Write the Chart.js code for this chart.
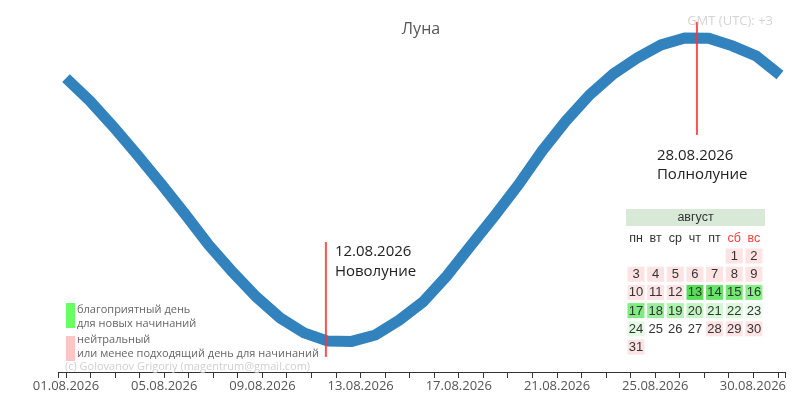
<!DOCTYPE html>
<html><head><meta charset="utf-8">
<script src="https://cdn.jsdelivr.net/npm/chart.js@4"></script>
<style>html,body{margin:0;padding:0;background:#fff}#wrap{width:795px;height:407px;position:relative}</style>
</head><body><div id="wrap"><canvas id="c" width="795" height="407"></canvas></div>
<script>
// ---- data ----
const illumination = [86.8,79.3,70.7,61.5,52.0,42.1,31.9,23.0,14.8,7.9,3.0,0.3,0.2,2.3,7.2,13.2,21.7,31.6,41.4,51.6,62.8,72.7,81.3,88.2,93.4,97.7,100,99.9,97.4,94.1,87.8];
const dayIndex = illumination.map((_, i) => i);
const tickDays = [0,1,2,3,4,5,6,7,8,9,10,11,12,13,14,15,16,17,18,19,20,21,22,23,24,25,26,27,28,29];
const labeledDays = [0,4,8,12,16,20,24,29];
const labeledText = ['01.08.2026','05.08.2026','09.08.2026','13.08.2026','17.08.2026','21.08.2026','25.08.2026','30.08.2026'];
const eventPos = [10.92, 26.51];
const eventLow = [-4.9, 68.1];
const eventHigh = [32.9, 105.3];
const eventDates = ['12.08.2026','28.08.2026'];
const eventNames = ['Новолуние','Полнолуние'];
const monthName = 'август';
const weekdays = ['пн','вт','ср','чт','пт','сб','вс'];
const firstWeekday = 5;
const dayColors = ['#fde3e3','#fde3e3','#fde3e3','#fde3e3','#fde3e3','#fde3e3','#fde3e3','#fde3e3','#fde3e3','#fde3e3','#fde3e3','#fde3e3',
  '#55df55','#66e466','#72e872','#8aee8a','#80eb80','#9af09a','#aef3ae','#c4f6c4','#d4f8d4','#dcf9dc','#ecfcec','#e4fae4',
  null,null,null,'#fde3e3','#fde3e3','#fde3e3','#fde3e3'];
const legendColors = ['#66ff66','#ffc4c4'];
const legendLines = [['благоприятный день','для новых начинаний'],['нейтральный','или менее подходящий день для начинаний']];
const titleText = 'Луна';
const tzText = 'GMT (UTC): +3';
const copyText = '(c) Golovanov Grigoriy (magentrum@gmail.com)';

const FONT = '"Open Sans", "Noto Sans", sans-serif';

const overlay = {
  id: 'overlay',
  afterDraw(chart) {
    const ctx = chart.ctx;
    const xs = chart.scales.x, ys = chart.scales.y, xt = chart.scales.xt;
    ctx.save();
    ctx.textBaseline = 'alphabetic';
    // title
    ctx.fillStyle = '#555';
    ctx.font = '16px ' + FONT;
    ctx.textAlign = 'center';
    ctx.fillText(titleText, 421, 34);
    // tz
    ctx.fillStyle = '#d4d4d4';
    ctx.font = '13px ' + FONT;
    ctx.textAlign = 'right';
    ctx.fillText(tzText, 773, 25);
    // event labels
    ctx.fillStyle = '#222';
    ctx.font = '15px ' + FONT;
    ctx.textAlign = 'left';
    {
      const px = xs.getPixelForValue(eventPos[0]);
      const top = ys.getPixelForValue(eventHigh[0]);
      ctx.fillText(eventDates[0], px + 9, top + 14);
      ctx.fillText(eventNames[0], px + 9, top + 34);
    }
    {
      const px = xs.getPixelForValue(eventPos[1]);
      const bot = ys.getPixelForValue(eventLow[1]);
      ctx.fillText(eventDates[1], px - 40, bot + 25);
      ctx.fillText(eventNames[1], px - 40, bot + 44.5);
    }
    // legend
    ctx.font = '11px ' + FONT;
    ctx.fillStyle = legendColors[0];
    ctx.fillRect(66, 303, 9, 25);
    ctx.fillStyle = legendColors[1];
    ctx.fillRect(66, 336, 9, 25);
    ctx.fillStyle = '#666';
    ctx.fillText(legendLines[0][0], 77, 313);
    ctx.fillText(legendLines[0][1], 77, 326.5);
    ctx.fillText(legendLines[1][0], 77, 343);
    ctx.fillText(legendLines[1][1], 77, 357);
    ctx.fillStyle = '#cfcfcf';
    ctx.fillText(copyText, 65, 369.5);
    // last tick label (kept inside canvas)
    ctx.fillStyle = '#555';
    ctx.font = '13px ' + FONT;
    ctx.textAlign = 'right';
    ctx.textBaseline = 'middle';
    ctx.fillText(labeledText[labeledText.length - 1], 786, xt.top + 6 + 7.8);
    // calendar
    const CF = '"Liberation Sans", Arial, sans-serif';
    ctx.fillStyle = '#d9e9d8';
    ctx.fillRect(626, 209, 139, 17);
    ctx.fillStyle = '#333';
    ctx.font = '12.5px ' + CF;
    ctx.textAlign = 'center';
    ctx.textBaseline = 'middle';
    ctx.fillText(monthName, 695.5, 217.5);
    const colX = c => 636 + 19.65 * c;
    const rowY = r => 256 + 18.2 * r;
    weekdays.forEach((w, c) => {
      ctx.fillStyle = c >= 5 ? '#ff3b3b' : '#333';
      ctx.fillText(w, colX(c), 238.5);
    });
    for (let d = 1; d <= dayColors.length; d++) {
      const pos = firstWeekday + d - 1;
      const c = pos % 7, r = Math.floor(pos / 7);
      const cx = colX(c), cy = rowY(r);
      if (dayColors[d - 1]) {
        ctx.fillStyle = dayColors[d - 1];
        ctx.fillRect(cx - 8.5, cy - 7.5, 17, 15);
      }
      ctx.fillStyle = '#333';
      ctx.font = '13px ' + CF;
      ctx.fillText(String(d), cx, cy + 0.5);
    }
    ctx.restore();
  }
};

function draw() {
  new Chart(document.getElementById('c'), {
    type: 'line',
    data: {
      datasets: [
        { data: [{x: eventPos[0], y: eventLow[0]}, {x: eventPos[0], y: eventHigh[0]}], borderColor: 'rgba(255,50,50,0.85)', borderWidth: 2, pointRadius: 0, xAxisID: 'x', yAxisID: 'y' },
        { data: [{x: eventPos[1], y: eventLow[1]}, {x: eventPos[1], y: eventHigh[1]}], borderColor: 'rgba(255,50,50,0.85)', borderWidth: 2, pointRadius: 0, xAxisID: 'x', yAxisID: 'y' },
        { data: dayIndex.map((x, i) => ({x, y: illumination[i]})), borderColor: '#3182bd', borderWidth: 11, pointRadius: 0, tension: 0, xAxisID: 'x', yAxisID: 'y' }
      ]
    },
    options: {
      responsive: false,
      animation: false,
      events: [],
      layout: { padding: { left: 58, right: 10, top: 10, bottom: 13.4 } },
      plugins: { legend: { display: false }, tooltip: { enabled: false }, title: { display: false } },
      scales: {
        x: { type: 'linear', display: false, min: -0.336, max: 30.21 },
        y: { type: 'linear', display: false, min: -9.87, max: 109.2 },
        xt: {
          type: 'linear', position: 'bottom', min: -0.326, max: 29.285,
          afterBuildTicks: (axis) => {
            axis.ticks = [{value: axis.min}].concat(tickDays.map(v => ({value: v}))).concat([{value: axis.max}]);
          },
          grid: { drawOnChartArea: false, drawTicks: true, tickLength: 6, color: '#333' },
          border: { display: true, color: '#333', width: 1 },
          ticks: {
            autoSkip: false, maxRotation: 0, minRotation: 0, padding: 0,
            color: '#555', font: { family: FONT, size: 13 },
            callback: (value) => {
              const k = labeledDays.indexOf(value);
              return (k >= 0 && k < labeledDays.length - 1) ? labeledText[k] : '';
            }
          }
        }
      }
    },
    plugins: [overlay]
  });
}
if (document.fonts && document.fonts.load) {
  Promise.all([document.fonts.load('13px "Open Sans"'), document.fonts.load('13px "Liberation Sans"')]).then(draw, draw);
} else { draw(); }
</script>
</body></html>
